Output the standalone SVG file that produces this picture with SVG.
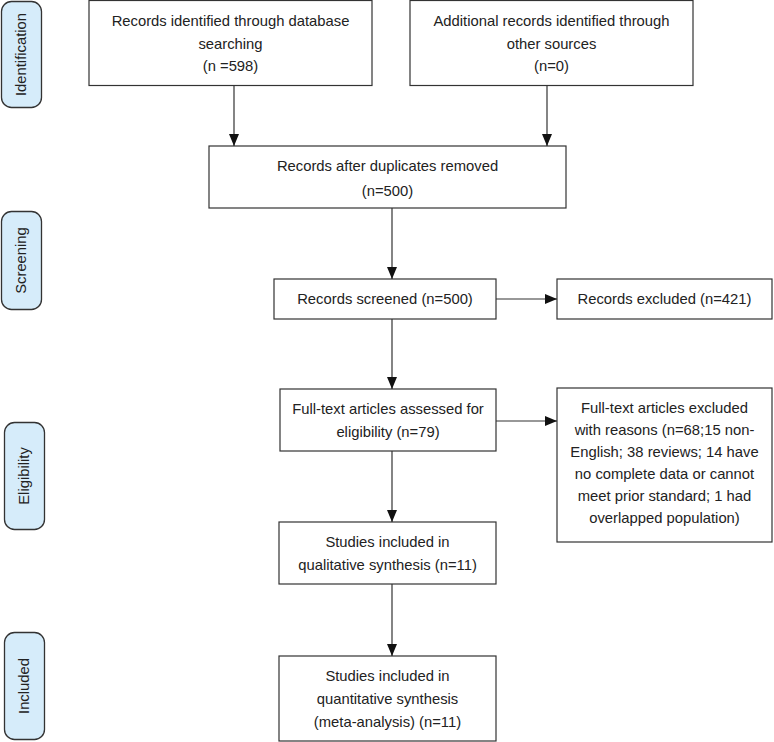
<svg xmlns="http://www.w3.org/2000/svg" width="774" height="742" viewBox="0 0 774 742">
<defs>
<marker id="ah" markerWidth="12" markerHeight="10" refX="12" refY="5" orient="auto" markerUnits="userSpaceOnUse">
<path d="M0,0 L12,5 L0,10 Z" fill="#111"/>
</marker>
</defs>
<style>
.box{fill:#fff;stroke:#333;stroke-width:1.2}
.side{fill:#d6ecfa;stroke:#333;stroke-width:1.3}
text{font-family:"Liberation Sans",Arial,sans-serif;font-size:14.8px;fill:#222;text-anchor:middle}
.conn line{stroke:#333;stroke-width:1.2;marker-end:url(#ah)}
</style>
<rect width="774" height="742" fill="#fff"/>
<g id="stage-identification"><rect class="side" x="1.5" y="1.5" width="40" height="106" rx="10"/><text transform="translate(26,54.5) rotate(-90)">Identification</text></g>
<g id="stage-screening"><rect class="side" x="1.5" y="211.5" width="40" height="98" rx="10"/><text transform="translate(26,260.5) rotate(-90)">Screening</text></g>
<g id="stage-eligibility"><rect class="side" x="4.5" y="422.5" width="40" height="107" rx="10"/><text transform="translate(29,476) rotate(-90)">Eligibility</text></g>
<g id="stage-included"><rect class="side" x="4.5" y="632.5" width="40" height="107" rx="10"/><text transform="translate(29,686) rotate(-90)">Included</text></g>

<g id="n1"><rect class="box" x="89" y="0.5" width="283" height="85"/><text x="230.5" y="26">Records identified through database</text><text x="230.5" y="49">searching</text><text x="230.5" y="71">(n =598)</text></g>
<g id="n2"><rect class="box" x="410" y="0.5" width="283" height="85"/><text x="551.5" y="26">Additional records identified through</text><text x="551.5" y="49">other sources</text><text x="551.5" y="71">(n=0)</text></g>
<g id="n3"><rect class="box" x="209" y="146" width="357" height="62"/><text x="387.5" y="171">Records after duplicates removed</text><text x="387.5" y="196">(n=500)</text></g>
<g id="n4"><rect class="box" x="274" y="279" width="222" height="40"/><text x="385" y="304">Records screened (n=500)</text></g>
<g id="n5"><rect class="box" x="557" y="279" width="215" height="40"/><text x="664.5" y="304">Records excluded (n=421)</text></g>
<g id="n6"><rect class="box" x="280" y="389" width="216" height="62"/><text x="388" y="414">Full-text articles assessed for</text><text x="388" y="437">eligibility (n=79)</text></g>
<g id="n7"><rect class="box" x="557" y="388" width="215" height="154"/><text x="664.5" y="413">Full-text articles excluded</text><text x="664.5" y="435">with reasons (n=68;15 non-</text><text x="664.5" y="457">English; 38 reviews; 14 have</text><text x="664.5" y="479">no complete data or cannot</text><text x="664.5" y="501">meet prior standard; 1 had</text><text x="664.5" y="523">overlapped population)</text></g>
<g id="n8"><rect class="box" x="279" y="522" width="217" height="62"/><text x="387.5" y="547">Studies included in</text><text x="387.5" y="570">qualitative synthesis (n=11)</text></g>
<g id="n9"><rect class="box" x="279" y="656" width="217" height="85"/><text x="387.5" y="681">Studies included in</text><text x="387.5" y="704">quantitative synthesis</text><text x="387.5" y="727">(meta-analysis) (n=11)</text></g>

<g id="connectors" class="conn">
<line x1="234" y1="85.5" x2="234" y2="146"/>
<line x1="547" y1="85.5" x2="547" y2="146"/>
<line x1="392" y1="208" x2="392" y2="279"/>
<line x1="496" y1="299" x2="557" y2="299"/>
<line x1="392" y1="319" x2="392" y2="389"/>
<line x1="496" y1="421" x2="557" y2="421"/>
<line x1="392" y1="451" x2="392" y2="522"/>
<line x1="392" y1="584" x2="392" y2="656"/>
</g>
</svg>
